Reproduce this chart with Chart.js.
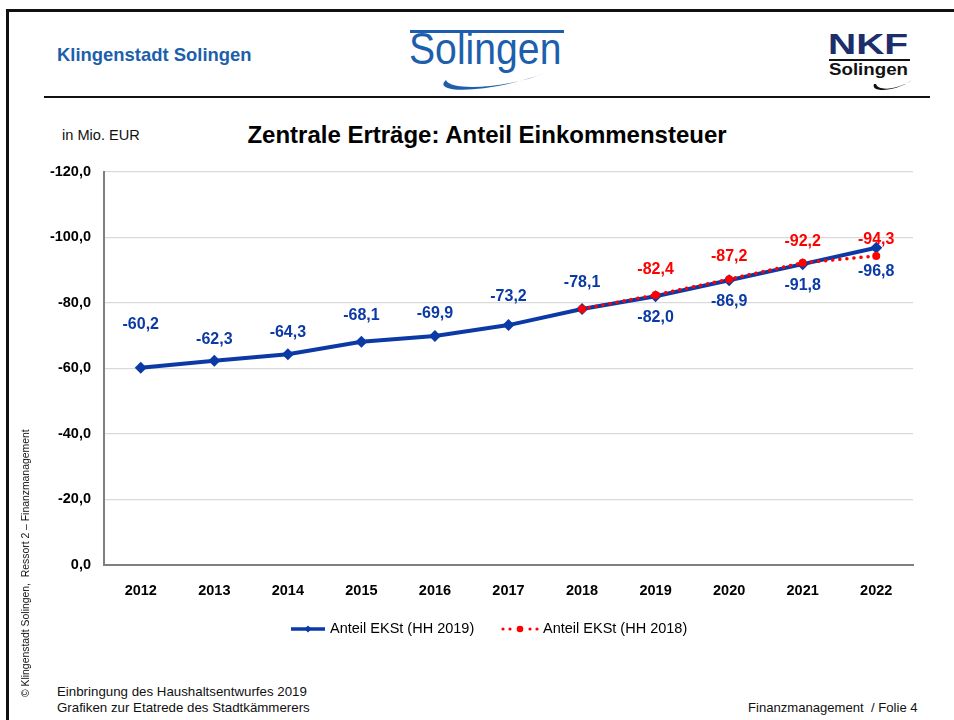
<!DOCTYPE html>
<html lang="de">
<head>
  <meta charset="UTF-8" />
  <title>Zentrale Erträge: Anteil Einkommensteuer</title>
  <script src="https://cdn.jsdelivr.net/npm/chart.js"></script>
  <style>
    body {
      margin: 0;
      width: 954px;
      height: 720px;
      background: #fff;
      font-family: 'Liberation Sans', Arial, sans-serif;
      position: relative;
      overflow: hidden;
    }

    .frame-top {
      position: absolute; left: 6px; top: 9px; width: 948px; height: 3px; background: #111;
    }
    .frame-left {
      position: absolute; left: 6px; top: 9px; width: 3px; height: 711px; background: #111;
    }
    .header-line {
      position: absolute; left: 44px; top: 96px; width: 886px; height: 2px; background: #111;
    }

    .city {
      position: absolute; left: 57px; top: 44px;
      font-weight: bold; font-size: 19px; color: #1d5fac;
      transform: scaleX(0.97); transform-origin: 0 0;
    }

    .logo-bar {
      position: absolute; left: 410px; top: 30px; width: 154px; height: 3px; background: #1d5fac;
    }
    .logo-text {
      position: absolute; left: 409px; top: 24px;
      font-size: 44px; color: #1d5fac;
      transform: scaleX(0.89); transform-origin: 0 0;
    }
    .swoosh { position: absolute; }

    .nkf {
      position: absolute; left: 828px; top: 27px;
      font-weight: bold; font-size: 30px; color: #1c2f6b;
      transform: scaleX(1.3); transform-origin: 0 0;
    }
    .nkf-line {
      position: absolute; left: 829px; top: 59px; width: 81px; height: 2px; background: #111;
    }
    .nkf-sol {
      position: absolute; left: 829px; top: 60px;
      font-weight: bold; font-size: 17px; color: #111;
      transform: scaleX(1.1); transform-origin: 0 0;
    }

    .unit {
      position: absolute; left: 62px; top: 127px; font-size: 14.6px; color: #111;
    }
    .title {
      position: absolute; left: 0; width: 974px; top: 121px; text-align: center;
      font-weight: bold; font-size: 24px; color: #000;
    }

    .chart-box {
      position: absolute; left: 0; top: 150px; width: 954px; height: 500px;
    }

    .foot {
      position: absolute; left: 57px; top: 684px; font-size: 13.3px; line-height: 16px; color: #111;
    }
    .folie {
      position: absolute; left: 748px; top: 700px; font-size: 13.1px; color: #111;
    }
    .side {
      position: absolute; left: 20px; top: 697px;
      transform: rotate(-90deg); transform-origin: 0 0;
      font-size: 10.4px; color: #111; white-space: nowrap;
    }
  </style>
</head>
<body>
  <div class="frame-top"></div>
  <div class="frame-left"></div>

  <div class="city">Klingenstadt Solingen</div>

  <div class="logo-bar"></div>
  <div class="logo-text">Solingen</div>
  <svg class="swoosh" style="left:430px;top:60px" width="140" height="36">
    <path d="M 16 20 C 0 34, 60 34, 118 12 C 80 28, 20 32, 16 20 Z" fill="#1d5fac" />
  </svg>

  <div class="nkf">NKF</div>
  <div class="nkf-line"></div>
  <div class="nkf-sol">Solingen</div>
  <svg class="swoosh" style="left:870px;top:74px" width="50" height="20">
    <path d="M 4 10 C 0 19, 26 18, 42 6 C 30 15, 8 18, 6 10 Z" fill="#111" />
  </svg>

  <div class="header-line"></div>

  <div class="unit">in Mio. EUR</div>
  <div class="title">Zentrale Erträge: Anteil Einkommensteuer</div>

  <div class="chart-box">
    <canvas id="chart"></canvas>
  </div>

  <div class="side">© Klingenstadt Solingen,&nbsp; Ressort 2 – Finanzmanagement</div>
  <div class="foot">Einbringung des Haushaltsentwurfes 2019<br>Grafiken zur Etatrede des Stadtkämmerers</div>
  <div class="folie">Finanzmanagement&nbsp; / Folie 4</div>

  <script>
    // data
    const years = ["2012", "2013", "2014", "2015", "2016", "2017", "2018", "2019", "2020", "2021", "2022"];
    const hh2019 = [-60.2, -62.3, -64.3, -68.1, -69.9, -73.2, -78.1, -82.0, -86.9, -91.8, -96.8];
    const hh2018 = [null, null, null, null, null, null, -78.1, -82.4, -87.2, -92.2, -94.3];
    const yTicks = [-120, -100, -80, -60, -40, -20, 0];

    const blue = "#0b3aa6";
    const red = "#ff0000";

    // label offsets (px from point), null = no label
    const blueLabelDy = [-43, -21, -22, -26, -22, -28, -26, 21, 21, 21, 24];
    const redLabelDy = [null, null, null, null, null, null, null, -25, -23, -21, -16];

    function fmt(v) {
      return v.toFixed(1).replace(".", ",");
    }

    const valueLabels = {
      id: "valueLabels",
      afterDatasetsDraw(chart) {
        const ctx = chart.ctx;
        ctx.save();
        ctx.font = "bold 16px 'Liberation Sans', Arial, sans-serif";
        ctx.textAlign = "center";
        ctx.textBaseline = "middle";
        chart.data.datasets.forEach((ds, i) => {
          const meta = chart.getDatasetMeta(i);
          const offs = ds.labelDy;
          meta.data.forEach((pt, j) => {
            if (ds.data[j] == null || offs[j] == null) return;
            ctx.fillStyle = ds.borderColor;
            ctx.fillText(fmt(ds.data[j]), pt.x, pt.y + offs[j]);
          });
        });
        ctx.restore();
      }
    };

    const slideLegend = {
      id: "slideLegend",
      afterDraw(chart) {
        const ctx = chart.ctx;
        const y = 479;
        ctx.save();
        ctx.font = "14.5px 'Liberation Sans', Arial, sans-serif";
        ctx.textBaseline = "middle";
        ctx.textAlign = "left";

        // blue entry
        let x = 291;
        ctx.strokeStyle = blue;
        ctx.lineWidth = 3.5;
        ctx.beginPath();
        ctx.moveTo(x, y); ctx.lineTo(x + 34, y);
        ctx.stroke();
        ctx.fillStyle = blue;
        ctx.beginPath();
        ctx.moveTo(x + 17, y - 3.5); ctx.lineTo(x + 20.5, y);
        ctx.lineTo(x + 17, y + 3.5); ctx.lineTo(x + 13.5, y);
        ctx.closePath(); ctx.fill();
        ctx.fillStyle = "#000";
        ctx.fillText(chart.data.datasets[0].label, x + 39, y);

        // red entry
        x = 502;
        ctx.fillStyle = red;
        [0, 7, 27, 34].forEach(dx => {
          ctx.beginPath(); ctx.arc(x + dx + 1, y, 1.6, 0, Math.PI * 2); ctx.fill();
        });
        ctx.beginPath(); ctx.arc(x + 18, y, 3.3, 0, Math.PI * 2); ctx.fill();
        ctx.fillStyle = "#000";
        ctx.fillText(chart.data.datasets[1].label, x + 41, y);
        ctx.restore();
      }
    };

    new Chart(document.getElementById("chart"), {
      type: "line",
      data: {
        labels: years,
        datasets: [
          {
            label: "Anteil EKSt (HH 2019)",
            data: hh2019,
            labelDy: blueLabelDy,
            borderColor: blue,
            backgroundColor: blue,
            borderWidth: 4,
            pointStyle: "rectRot",
            pointRadius: 6,
            pointBorderWidth: 0,
            tension: 0,
            order: 2
          },
          {
            label: "Anteil EKSt (HH 2018)",
            data: hh2018,
            labelDy: redLabelDy,
            borderColor: red,
            backgroundColor: red,
            borderWidth: 3.5,
            borderDash: [0.1, 7],
            borderCapStyle: "round",
            pointStyle: "circle",
            pointRadius: 4,
            pointBorderWidth: 0,
            tension: 0,
            spanGaps: false,
            order: 1
          }
        ]
      },
      options: {
        responsive: true,
        maintainAspectRatio: false,
        animation: false,
        layout: { padding: { left: 0, right: 41, top: 16, bottom: 50 } },
        plugins: {
          legend: { display: false },
          tooltip: { enabled: false }
        },
        scales: {
          x: {
            offset: true,
            grid: { display: false },
            border: { display: true, color: "#7f7f7f", width: 2 },
            ticks: {
              color: "#000",
              padding: 9,
              font: { family: "'Liberation Sans', Arial, sans-serif", size: 14.5, weight: "bold" }
            },
            afterFit(scale) { scale.height = 35; }
          },
          y: {
            reverse: true,
            min: -120,
            max: 0,
            afterBuildTicks(scale) {
              scale.ticks = yTicks.map(v => ({ value: v }));
            },
            grid: { color: "#d9d9d9", lineWidth: 1.3, drawTicks: false },
            border: { display: true, color: "#7f7f7f", width: 2 },
            ticks: {
              color: "#000",
              padding: 13,
              font: { family: "'Liberation Sans', Arial, sans-serif", size: 14.5, weight: "bold" },
              callback: v => fmt(v)
            },
            afterFit(scale) { scale.width = 104; }
          }
        }
      },
      plugins: [valueLabels, slideLegend]
    });
  </script>
</body>
</html>
